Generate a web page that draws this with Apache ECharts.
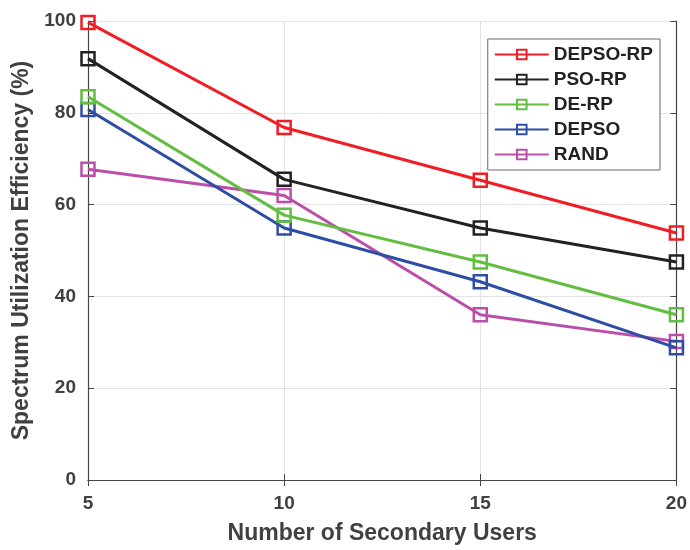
<!DOCTYPE html>
<html><head><meta charset="utf-8">
<script src="https://cdn.jsdelivr.net/npm/echarts@6/dist/echarts.min.js"></script>
<style>html,body{margin:0;padding:0;background:#fff}#c{width:690px;height:550px}</style>
</head><body><div id="c"></div>
<script>
const users = [5, 10, 15, 20];
const depsoRp = [99.7, 76.8, 65.3, 53.8];
const psoRp = [91.8, 65.5, 54.9, 47.5];
const deRp = [83.5, 57.7, 47.5, 36.0];
const depso = [80.7, 54.9, 43.2, 28.8];
const rand = [67.7, 62.0, 36.0, 30.2];
const names = ['DEPSO-RP', 'PSO-RP', 'DE-RP', 'DEPSO', 'RAND'];
const colors = ['#f01d24', '#222222', '#62bd40', '#2e4ea6', '#bb4fa8'];
const allData = [depsoRp, psoRp, deRp, depso, rand];
const narrow = '"Liberation Sans Narrow", "Arial Narrow", "Liberation Sans", sans-serif';
const txt = '#404040';
const chart = echarts.init(document.getElementById('c'));
const series = allData.map((d, i) => ({
  name: names[i], type: 'line', xAxisIndex: 0, yAxisIndex: 0,
  data: users.map((u, j) => [u, d[j]]),
  symbol: 'rect', symbolSize: 13,
  lineStyle: {color: colors[i], width: 3},
  itemStyle: {color: 'rgba(255,255,255,0)', borderColor: colors[i], borderWidth: 2.5},
  emphasis: {disabled: true}, z: 10 - i
}));
const axisLine = {show: true, lineStyle: {color: '#444', width: 1.2}};
chart.setOption({
  animation: false,
  backgroundColor: '#fff',
  grid: {left: 88, right: 10, top: 21, bottom: 68},
  legend: {
    data: names, orient: 'vertical', right: 30, top: 39,
    backgroundColor: '#fff', borderColor: '#666', borderWidth: 1,
    padding: [6, 7, 6, 6], itemGap: 6, itemWidth: 54, itemHeight: 12,
    textStyle: {fontFamily: '"Liberation Sans", Arial, sans-serif', fontWeight: 'bold', fontSize: 19, color: '#222'}
  },
  xAxis: [{
    type: 'value', min: 5, max: 20, interval: 5,
    name: 'Number of Secondary Users', nameLocation: 'middle', nameGap: 42,
    nameTextStyle: {fontFamily: narrow, fontWeight: 'bold', fontSize: 23, color: txt},
    axisLine: axisLine, axisTick: {show: true, inside: true, length: 6, lineStyle: {color: '#444'}},
    axisLabel: {fontFamily: narrow, fontWeight: 'bold', fontSize: 19, color: txt, margin: 14},
    splitLine: {show: true, lineStyle: {color: '#e3e3e3', width: 1}}
  }, {
    type: 'value', min: 5, max: 20, interval: 5, position: 'top',
    axisLine: axisLine, axisTick: {show: true, inside: true, length: 6, lineStyle: {color: '#444'}},
    axisLabel: {show: false}, splitLine: {show: false}
  }],
  yAxis: [{
    type: 'value', min: 0, max: 100, interval: 20,
    name: 'Spectrum Utilization Efficiency (%)', nameLocation: 'middle', nameGap: 52,
    nameTextStyle: {fontFamily: narrow, fontWeight: 'bold', fontSize: 23, color: txt},
    axisLine: axisLine, axisTick: {show: true, inside: true, length: 6, lineStyle: {color: '#444'}},
    axisLabel: {fontFamily: narrow, fontWeight: 'bold', fontSize: 19, color: txt, margin: 12},
    splitLine: {show: true, lineStyle: {color: '#e3e3e3', width: 1}}
  }, {
    type: 'value', min: 0, max: 100, interval: 20, position: 'right',
    axisLine: axisLine, axisTick: {show: true, inside: true, length: 6, lineStyle: {color: '#444'}},
    axisLabel: {show: false}, splitLine: {show: false}
  }],
  series: series
});
</script></body></html>
